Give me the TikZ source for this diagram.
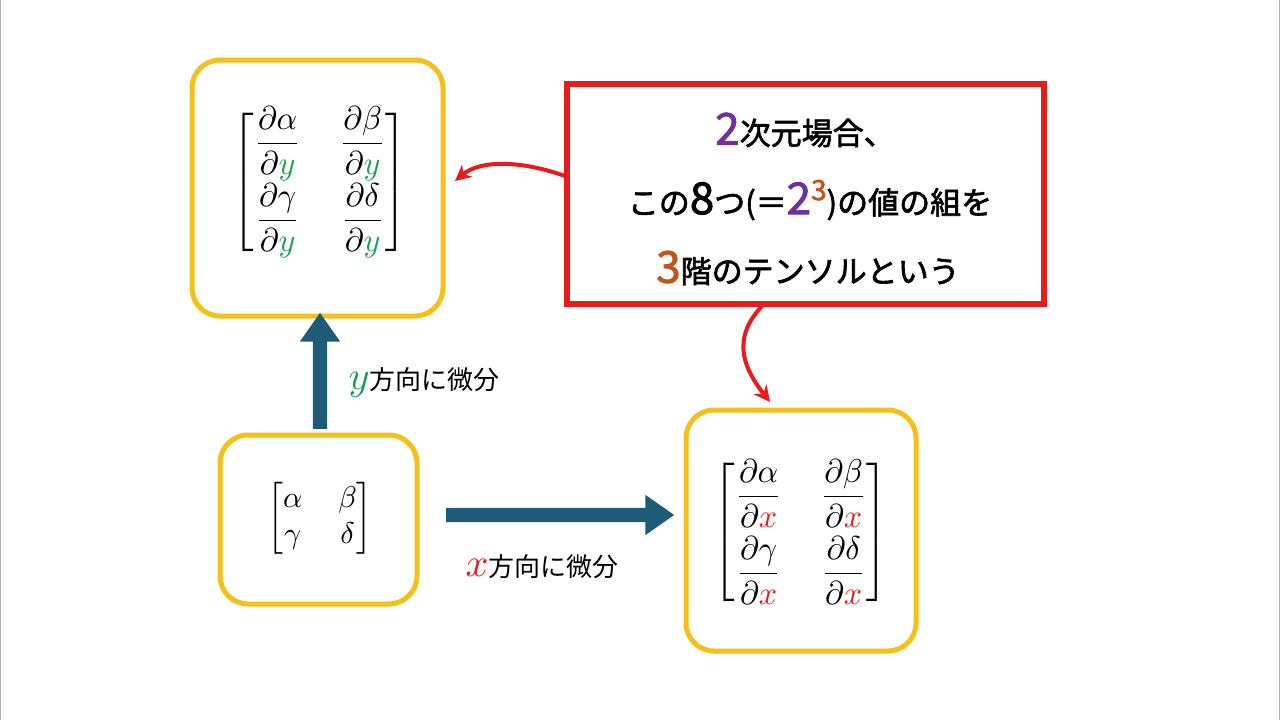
\documentclass[tikz,border=0pt]{standalone}
\usepackage{amsmath}
\usepackage{xcolor}
\usepackage{graphicx}
\usepackage{fontspec}
\newfontfamily\jpfont{Noto Sans CJK JP}
\newfontfamily\jpbold{Noto Sans CJK JP}[FakeBold=2]
\usetikzlibrary{arrows.meta,shapes.arrows}
\definecolor{gold}{HTML}{F5C01A}
\definecolor{tblue}{HTML}{1D5B79}
\definecolor{tgreen}{HTML}{1AA05A}
\definecolor{tred}{HTML}{E81C1C}
\definecolor{tpurple}{HTML}{7030A0}
\definecolor{tbrown}{HTML}{C0561C}
\tikzset{
  ybox/.style={draw=gold,line width=5pt,rounded corners=28pt},
  bigarrow/.style={single arrow,fill=tblue,draw=none,minimum height=#1,minimum width=40pt,single arrow head extend=13pt,single arrow tip angle=70,inner sep=7pt},
  redcurve/.style={draw=tred,line width=4pt,-{Stealth[length=16pt,width=16pt]}},
  lbl/.style={font=\jpfont,anchor=west},
  rtext/.style={font=\jpbold}
}
\newcommand{\gy}{{\color{tgreen}y}}
\newcommand{\rx}{{\color{tred}x}}
\begin{document}
\begin{tikzpicture}[x=1pt,y=-1pt]
\useasboundingbox[fill=white] (0,0) rectangle (1280,720);
\draw[gray!60] (0.5,0)--(0.5,720) (1279.5,0)--(1279.5,720);
\draw[ybox] (192,60) rectangle (443,316);
\draw[ybox] (220,435) rectangle (417,604);
\draw[ybox] (686,410) rectangle (916,651);
\draw[draw=tred,line width=6pt] (567,84) rectangle (1044,304);
\node (mt) at (320,182) {\scalebox{3.2}[3.3]{$\setlength{\arraycolsep}{6pt}\begin{bmatrix}\dfrac{\partial\alpha}{\partial \gy} & \dfrac{\partial\beta}{\partial \gy}\\[6pt] \dfrac{\partial\gamma}{\partial \gy} & \dfrac{\partial\delta}{\partial \gy}\end{bmatrix}$}};
\node (m0) at (320,518) {\scalebox{3}{$\setlength{\arraycolsep}{6pt}\begin{bmatrix}\alpha & \beta\\ \gamma & \delta\end{bmatrix}$}};
\node (mr) at (801,532) {\scalebox{3.2}[3.3]{$\setlength{\arraycolsep}{6pt}\begin{bmatrix}\dfrac{\partial\alpha}{\partial \rx} & \dfrac{\partial\beta}{\partial \rx}\\[6pt] \dfrac{\partial\gamma}{\partial \rx} & \dfrac{\partial\delta}{\partial \rx}\end{bmatrix}$}};
\node[bigarrow=116pt,rotate=90] (au) at (320,376) {};
\node[bigarrow=228pt] (ar) at (555,515) {};
\node[lbl] (ly) at (345,382) {\scalebox{4}{\color{tgreen}$y$}{\fontsize{26}{30}\selectfont 方向に微分}};
\node[lbl] (lx) at (462,567) {\scalebox{4}{\color{tred}$x$}{\fontsize{26}{30}\selectfont 方向に微分}};
\node[rtext] (t1) at (805,130) {{\fontsize{44}{44}\selectfont\color{tpurple}2}{\fontsize{31}{36}\selectfont 次元場合、}};
\node[rtext] (t2) at (810,200) {\fontsize{31}{36}\selectfont この{\fontsize{44}{44}\selectfont 8}つ(＝{\fontsize{44}{44}\selectfont\color{tpurple}2}\raisebox{14pt}{\fontsize{28}{30}\selectfont\color{tbrown}3})の値の組を};
\node[rtext] (t3) at (808,268) {{\fontsize{44}{44}\selectfont\color{tbrown}3}{\fontsize{31}{36}\selectfont 階のテンソルという}};
\coordinate (c1) at (565,176);
\coordinate (c2) at (455,181);
\coordinate (c3) at (762,306);
\coordinate (c4) at (770,402);
\draw[redcurve] (c1) .. controls (520,160) and (480,160) .. (c2);
\draw[redcurve] (c3) .. controls (730,340) and (745,370) .. (c4);
\end{tikzpicture}
\end{document}
